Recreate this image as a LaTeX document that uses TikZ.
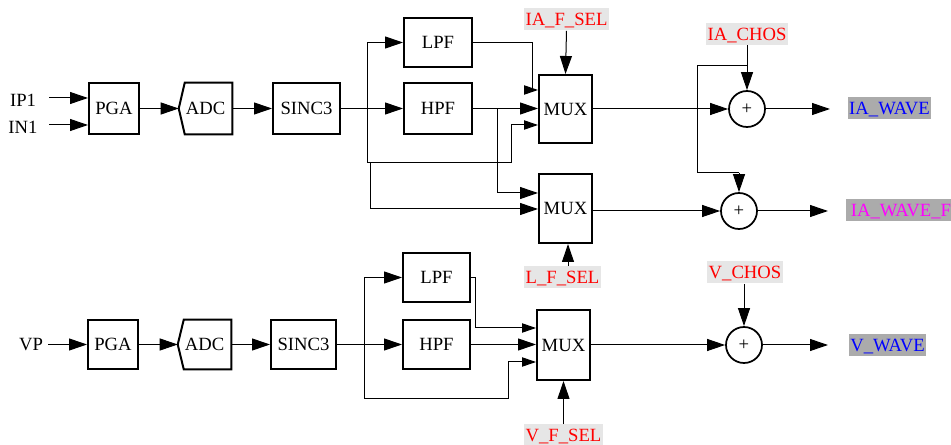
\documentclass[tikz,border=0pt]{standalone}
\usepackage{fontspec}
\setmainfont{Liberation Serif}
\usetikzlibrary{arrows.meta,calc}
\definecolor{lblbg}{HTML}{E6E6E6}
\definecolor{outbg}{HTML}{ABABAB}
\definecolor{redc}{RGB}{255,0,0}
\definecolor{bluec}{RGB}{0,0,255}
\definecolor{magc}{RGB}{255,0,255}
\begin{document}
\begin{tikzpicture}[x=0.75pt,y=-0.75pt,
  every node/.style={font=\fontsize{14}{16}\selectfont},
  blk/.style={draw,line width=1.5pt,inner sep=0pt},
  plain/.style={inner sep=0pt},
  sum/.style={draw,circle,line width=1.3pt,minimum size=27pt,inner sep=0pt,font=\fontsize{14}{14}\selectfont},
  ln/.style={line width=0.75pt},
  arr/.style={ln,-{Triangle[length=13.5pt,width=9pt]}},
  sarr/.style={ln,-{Triangle[length=10.5pt,width=7pt]}},
  sel/.style={fill=lblbg,text=redc,inner xsep=1pt,inner ysep=0pt,text height=13pt,text depth=3.5pt},
  outlbl/.style={fill=outbg,inner xsep=1pt,inner ysep=0pt,text height=13pt,text depth=3.5pt},
]
\useasboundingbox (0,0) rectangle (951,445);

% ---------------- top chain ----------------
\node (ip1) at (23,100) {IP1};
\node (in1) at (23,127) {IN1};
\coordinate (ip1s) at (49,98);
\coordinate (in1s) at (49,125);
\node[blk,minimum width=37.5pt,minimum height=38.25pt] (pga1) at (114,108.5) {PGA};
\node[plain,minimum width=39.75pt,minimum height=38.25pt] (adc1) at (205.5,108.5) {ADC};
\draw[line width=1.5pt] ($(adc1.north west)+(6,0)$) -- (adc1.north east) -- (adc1.south east) -- ($(adc1.south west)+(6,0)$) -- (adc1.west) -- cycle;
\node[blk,minimum width=50.25pt,minimum height=38.25pt] (sinc1) at (306.5,108.5) {SINC3};
\node[blk,minimum width=51pt,minimum height=36.75pt] (lpf1) at (438,42.5) {LPF};
\node[blk,minimum width=51pt,minimum height=38.25pt] (hpf1) at (438,108.5) {HPF};
\node[blk,minimum width=39.75pt,minimum height=51pt] (mux1) at (565.5,109) {MUX};
\node[blk,minimum width=39.75pt,minimum height=51.75pt] (mux2) at (565.5,208.5) {MUX};
\node[sum] (s1) at (747,109) {+};
\node[sum] (s2) at (739,211) {+};

\draw[arr] (ip1s) -- (pga1.west |- ip1s);
\draw[arr] (in1s) -- (pga1.west |- in1s);
\draw[arr] (pga1.east) -- (adc1.west);
\draw[arr] (adc1.east) -- (sinc1.west);
\coordinate (b1) at (367,108.5);
\coordinate (b2) at (367,163);
\coordinate (b3) at (370,163);
\coordinate (b4) at (497,108.5);
\draw[ln] (sinc1.east) -- (b1);
\draw[arr] (b1) -- (hpf1.west);
\draw[arr] (b1) |- (lpf1.west);
\draw[ln] (b1) -- (b2) -- (511,163) -- (511,125);
\draw[sarr] (511,125) -- (mux1.west |- 0,125);
\draw[arr] (b3) |- (mux2.west |- 0,209);
\draw[arr] (hpf1.east) -- (mux1.west |- hpf1.east);
\draw[arr] (b4) |- (mux2.west |- 0,193);
\draw[ln] (lpf1.east) -| (532,90);
\draw[sarr] (525,90) -- (mux1.west |- 0,90);

\node[sel] (iafsel) at (566.5,19.5) {IA\_F\_SEL};
\draw[arr] (iafsel.south) -- (mux1.north);
\draw[arr] (mux1.east) -- (s1.west);
\node[sel] (iachos) at (747,34) {IA\_CHOS};
\draw[arr] (iachos.south) -- (s1.north);
\coordinate (c1) at (747,66);
\coordinate (c2) at (739,173);
\draw[ln] (c1) -- (697,66) -- (697,173) -- (c2);
\draw[arr] (c2) -- (s2.north);
\coordinate (e1) at (830,109);
\draw[arr] (s1.east) -- (e1);
\node[outlbl,text=bluec] (iawave) at (889.5,108) {IA\_WAVE};
\draw[arr] (mux2.east |- s2.west) -- (s2.west);
\coordinate (e2) at (828,211);
\draw[arr] (s2.east) -- (e2);
\node[outlbl,text=magc,anchor=west,inner xsep=2pt,minimum width=82pt] (iawavef) at (846,210.5) {IA\_WAVE\_F};
\node[sel] (lfsel) at (562.5,277.5) {L\_F\_SEL};
\draw[arr] (lfsel.north -| 568,0) -- (mux2.south -| 568,0);

% ---------------- bottom chain ----------------
\node (vp) at (31,345) {VP};
\coordinate (vps) at (48,344.5);
\node[blk,minimum width=37.5pt,minimum height=36.75pt] (pga2) at (113,344.5) {PGA};
\node[plain,minimum width=39.75pt,minimum height=36.75pt] (adc2) at (204.5,344.5) {ADC};
\draw[line width=1.5pt] ($(adc2.north west)+(6,0)$) -- (adc2.north east) -- (adc2.south east) -- ($(adc2.south west)+(6,0)$) -- (adc2.west) -- cycle;
\node[blk,minimum width=48.75pt,minimum height=36.75pt] (sinc2) at (303.5,344.5) {SINC3};
\node[blk,minimum width=50.25pt,minimum height=36.75pt] (lpf2) at (436.5,277.5) {LPF};
\node[blk,minimum width=50.25pt,minimum height=36.75pt] (hpf2) at (436.5,344.5) {HPF};
\node[blk,minimum width=39.75pt,minimum height=52.5pt] (mux3) at (563.5,345) {MUX};
\node[sum] (s3) at (744,345) {+};

\draw[arr] (vps) -- (pga2.west);
\draw[arr] (pga2.east) -- (adc2.west);
\draw[arr] (adc2.east) -- (sinc2.west);
\coordinate (d1) at (364,344.5);
\coordinate (d2) at (364,399);
\draw[ln] (sinc2.east) -- (d1);
\draw[arr] (d1) -- (hpf2.west);
\draw[arr] (d1) |- (lpf2.west);
\draw[ln] (d1) -- (d2) -- (508,399) -- (508,362);
\draw[sarr] (508,362) -- (mux3.west |- 0,362);
\draw[ln] (lpf2.east) -- (475,277.5) -- (475,328);
\draw[sarr] (475,328) -- (mux3.west |- 0,328);
\draw[arr] (hpf2.east) -- (mux3.west |- hpf2.east);

\node[sel] (vfsel) at (563.5,435.5) {V\_F\_SEL};
\draw[arr] (vfsel.north -| mux3.south) -- (mux3.south);
\draw[arr] (mux3.east) -- (s3.west);
\node[sel] (vchos) at (745,272.5) {V\_CHOS};
\draw[arr] (vchos.south -| s3.north) -- (s3.north);
\coordinate (e3) at (828,345);
\draw[arr] (s3.east) -- (e3);
\node[outlbl,text=bluec] (vwave) at (887.5,345.5) {V\_WAVE};
\end{tikzpicture}
\end{document}
